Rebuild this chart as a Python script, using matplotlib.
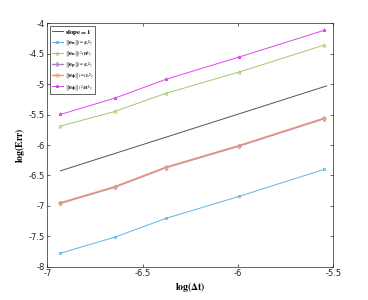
import matplotlib
matplotlib.use('Agg')
import matplotlib.pyplot as plt
from matplotlib.ticker import FuncFormatter

plt.rcParams['mathtext.fontset'] = 'stix'

# log(dt) values and log errors
log_dt = [-6.931, -6.646, -6.379, -5.995, -5.549]
slope_x = [-6.931, -5.534]
slope_y = [-6.424, -5.027]

eu_L2 = [-7.778, -7.515, -7.207, -6.845, -6.401]
eu_H1 = [-5.689, -5.447, -5.151, -4.801, -4.357]
ep_L2 = [-6.958, -6.693, -6.374, -6.018, -5.568]
ephi_L2 = [-6.948, -6.683, -6.364, -6.008, -5.558]
ephi_H1 = [-5.497, -5.229, -4.921, -4.554, -4.115]

labels = [
    r'$\mathbf{slope{=}1}$',
    r'$\|\mathbf{e_u}\|_{l^\infty(\mathbf{L^2})}$',
    r'$\|\mathbf{e_u}\|_{l^2(\mathbf{H^1})}$',
    r'$\|\mathbf{e_p}\|_{l^\infty(\mathbf{L^2})}$',
    r'$\|\mathbf{e_\phi}\|_{l^\infty(\mathbf{L^2})}$',
    r'$\|\mathbf{e_\phi}\|_{l^2(\mathbf{H^1})}$',
]

fig = plt.figure(figsize=(3.68, 3.0), dpi=100)
ax = fig.add_axes([0.1285, 0.111, 0.777, 0.811])

ax.plot(slope_x, slope_y, color='#555555', lw=0.7, label=labels[0])
ax.plot(log_dt, eu_L2, color='#5fb4e4', lw=0.7, marker='s', ms=2, mfc='none', mew=0.6, label=labels[1])
ax.plot(log_dt, eu_H1, color='#9fcb6e', lw=0.7, marker='^', ms=2.2, mfc='none', mew=0.6, label=labels[2])
ax.plot(log_dt, ep_L2, color='#a884c6', lw=1.0, marker='d', ms=2.4, mfc='none', mew=0.6, label=labels[3])
ax.plot(log_dt, ephi_L2, color='#ef9a74', lw=1.0, marker='o', ms=2.4, mfc='none', mew=0.6, label=labels[4])
ax.plot(log_dt, ephi_H1, color='#d84be8', lw=0.7, marker='*', ms=2.4, mew=0.6, label=labels[5])

ax.set_xlim(-7, -5.5)
ax.set_ylim(-8, -4)
ax.set_xticks([-7, -6.5, -6, -5.5])
ax.set_yticks([-8, -7.5, -7, -6.5, -6, -5.5, -5, -4.5, -4])
fmt = FuncFormatter(lambda v, p: f'{v:g}')
ax.xaxis.set_major_formatter(fmt)
ax.yaxis.set_major_formatter(fmt)
ax.tick_params(direction='in', top=True, right=True, labelsize=6, length=2.5,
               width=0.5, colors='#262626', pad=2)
for s in ax.spines.values():
    s.set_linewidth(0.5)
    s.set_color('#262626')

ax.set_xlabel(r'$\mathbf{log(\Delta t)}$', fontsize=7, labelpad=1)
ax.set_ylabel(r'$\mathbf{log(Err)}$', fontsize=7, labelpad=1)

leg = ax.legend(loc='upper left', fontsize=4.8, handlelength=1.7, handletextpad=0.25,
                borderpad=0.25, labelspacing=0.28, fancybox=False, framealpha=1,
                borderaxespad=0.4)
leg.get_frame().set_edgecolor('#262626')
leg.get_frame().set_linewidth(0.5)

fig.savefig('out.png', dpi=100)
